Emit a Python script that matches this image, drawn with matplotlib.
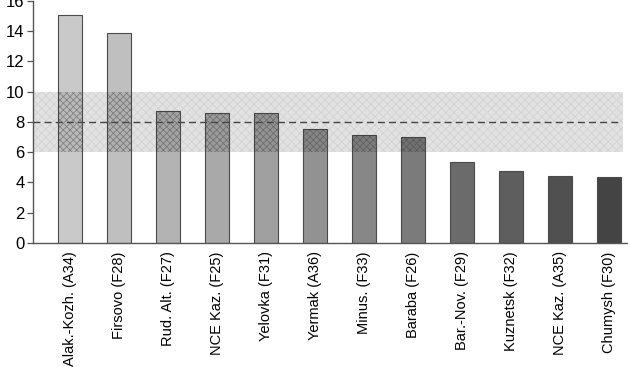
import matplotlib
matplotlib.use("Agg")
import matplotlib.pyplot as plt
import numpy as np

categories = ["Alak.-Kozh. (A34)", "Firsovo (F28)", "Rud. Alt. (F27)", "NCE Kaz. (F25)",
              "Yelovka (F31)", "Yermak (A36)", "Minus. (F33)", "Baraba (F26)",
              "Bar.-Nov. (F29)", "Kuznetsk (F32)", "NCE Kaz. (A35)", "Chumysh (F30)"]
values = [15.05, 13.85, 8.68, 8.6, 8.55, 7.53, 7.12, 6.98, 5.37, 4.72, 4.4, 4.33]
colors = ["#c9c9c9", "#bfbfbf", "#b3b3b3", "#a9a9a9", "#a0a0a0", "#929292",
          "#878787", "#7b7b7b", "#6b6b6b", "#5e5e5e", "#505050", "#444444"]
band_low, band_high, mean_line = 6, 10, 8
yticks = [0, 2, 4, 6, 8, 10, 12, 14, 16]

plt.rcParams['font.family'] = ['Liberation Sans', 'DejaVu Sans']
plt.rcParams['hatch.linewidth'] = 0.6

fig = plt.figure(figsize=(6.28, 3.67), dpi=100)
ax = fig.add_axes([33/628, 124/367, (628-33)/628, 242.4/367])
x = np.arange(len(categories))
vals = np.array(values)

# band behind bars
ax.fill_between([-0.755, 11.29], band_low, band_high, facecolor="#e2e2e2",
                edgecolor="#d2d2d2", hatch="xxxx", linewidth=0, zorder=1)
ax.bar(x, vals, width=0.5, color=colors, edgecolor="#4a4a4a", linewidth=0.8, zorder=2)
# band overlay on the bars
clipped = np.clip(vals, band_low, band_high) - band_low
ax.bar(x, clipped, bottom=band_low, width=0.5, color=(0, 0, 0, 0.08),
       edgecolor=(0.25, 0.25, 0.25, 0.45), hatch="xxxxx", linewidth=0, zorder=3)
ax.plot([-0.755, 11.22], [mean_line, mean_line], color="#444444", linestyle=(0, (5, 3)),
        linewidth=1.0, zorder=4)

ax.set_xlim(-0.755, 11.39)
ax.set_ylim(0, 16)
ax.set_yticks(yticks)
ax.set_yticklabels([str(t) for t in yticks], fontsize=12)
ax.set_xticks(x)
ax.set_xticklabels(categories, rotation=90, fontsize=10.5)
ax.tick_params(axis='x', length=0, pad=6)
ax.tick_params(axis='y', length=4, width=0.9, color="#555555", pad=2)
for s in ["top", "right"]:
    ax.spines[s].set_visible(False)
for s in ["left", "bottom"]:
    ax.spines[s].set_color("#555555")
    ax.spines[s].set_linewidth(1.0)

fig.savefig("out.png", dpi=100)
